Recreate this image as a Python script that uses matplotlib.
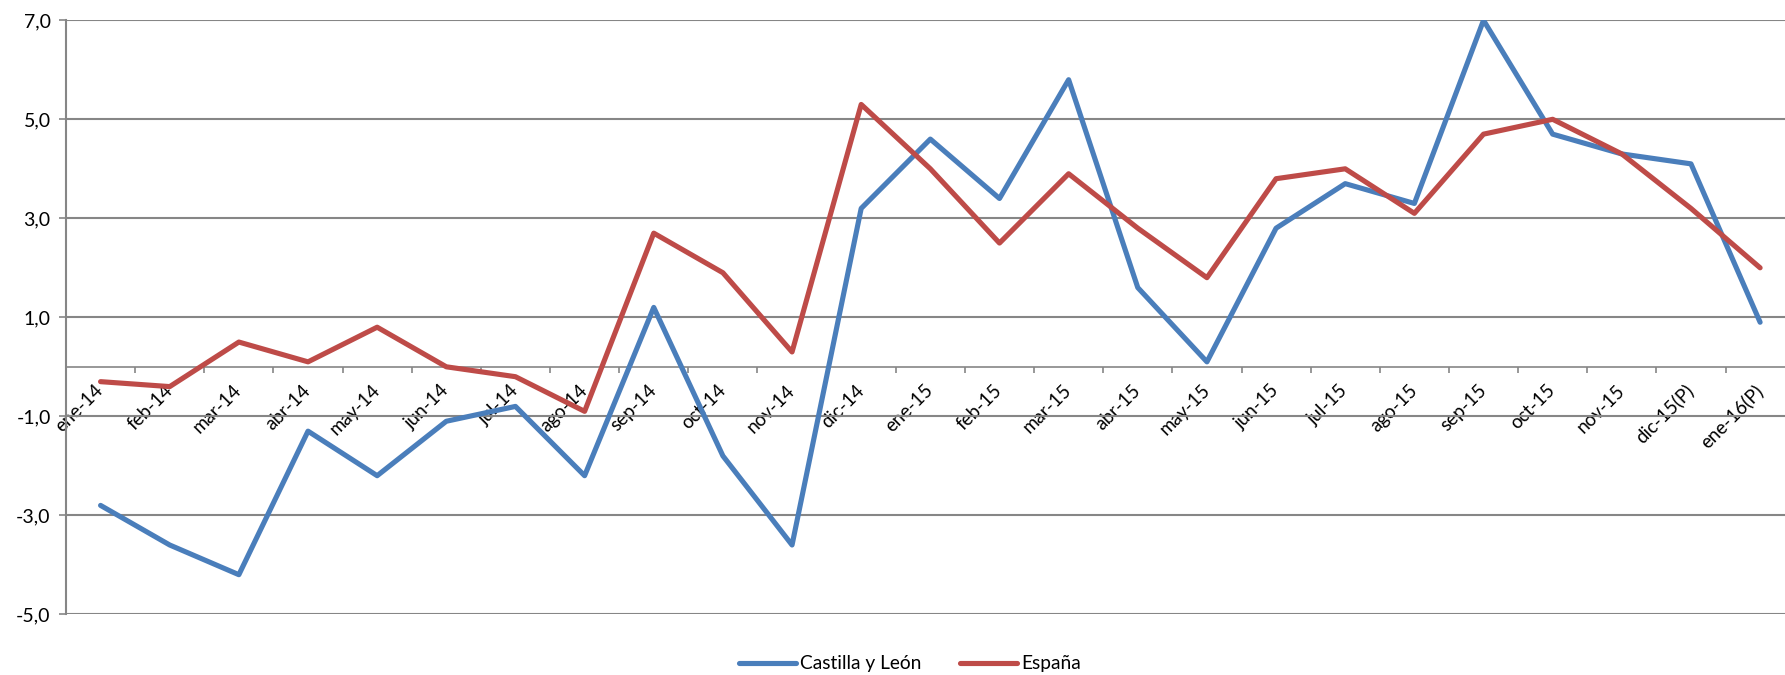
import numpy as np
import matplotlib
matplotlib.use("Agg")
import matplotlib.pyplot as plt
from matplotlib.ticker import FixedLocator

# Variación interanual (%) - Castilla y León vs España
meses = ["ene-14", "feb-14", "mar-14", "abr-14", "may-14", "jun-14", "jul-14",
         "ago-14", "sep-14", "oct-14", "nov-14", "dic-14", "ene-15", "feb-15",
         "mar-15", "abr-15", "may-15", "jun-15", "jul-15", "ago-15", "sep-15",
         "oct-15", "nov-15", "dic-15(P)", "ene-16(P)"]

castilla_leon = [-2.8, -3.6, -4.2, -1.3, -2.2, -1.1, -0.8, -2.2, 1.2, -1.8,
                 -3.6, 3.2, 4.6, 3.4, 5.8, 1.6, 0.1, 2.8, 3.7, 3.3, 7.0, 4.7,
                 4.3, 4.1, 0.9]
espana = [-0.3, -0.4, 0.5, 0.1, 0.8, 0.0, -0.2, -0.9, 2.7, 1.9, 0.3, 5.3,
          4.0, 2.5, 3.9, 2.8, 1.8, 3.8, 4.0, 3.1, 4.7, 5.0, 4.3, 3.2, 2.0]

y_ticks = [-5, -3, -1, 1, 3, 5, 7]
y_labels = ["-5,0", "-3,0", "-1,0", "1,0", "3,0", "5,0", "7,0"]

plt.rcParams['font.family'] = ['Lato', 'DejaVu Sans']

grey = "#868686"
fig = plt.figure(figsize=(17.85, 6.75), dpi=100)
ax = fig.add_axes([66 / 1785, 60.7 / 675, 1 - 66 / 1785, 594 / 675])

x = np.arange(len(meses))
ax.plot(x, castilla_leon, color="#4A7EBB", lw=3.7, label="Castilla y León",
        solid_joinstyle="round", solid_capstyle="round", zorder=3)
ax.plot(x, espana, color="#BE4B48", lw=3.7, label="España",
        solid_joinstyle="round", solid_capstyle="round", zorder=3)

ax.set_xlim(-0.5, 24.36)
ax.set_ylim(-5, 7)

# eje y
ax.set_yticks(y_ticks)
ax.set_yticklabels(y_labels, fontsize=14)
ax.yaxis.grid(True, color=grey, lw=1.5)
ax.tick_params(axis='y', length=5, width=1.2, color=grey, pad=6)

# eje x cruzando en 0
ax.spines['bottom'].set_position(('data', 0))
ax.spines['bottom'].set_color(grey)
ax.spines['bottom'].set_linewidth(1.2)
ax.spines['left'].set_color(grey)
ax.spines['left'].set_linewidth(1.5)
ax.spines['top'].set_visible(False)
ax.spines['right'].set_visible(False)

ax.set_xticks(x)
ax.set_xticklabels(meses, fontsize=13.5, rotation=45, ha='right',
                   va='center', rotation_mode='anchor')
ax.tick_params(axis='x', which='major', length=0, pad=15)
ax.xaxis.set_minor_locator(FixedLocator(np.arange(0.5, 24, 1)))
ax.tick_params(axis='x', which='minor', length=4, width=1.2, color=grey)
ax.set_axisbelow(True)

fig.legend(loc='center', bbox_to_anchor=(910 / 1785, 11 / 675), ncol=2,
           frameon=False, fontsize=13.8, handlelength=3.0, columnspacing=2.0,
           handletextpad=0.2)

fig.savefig("out.png", dpi=100)
